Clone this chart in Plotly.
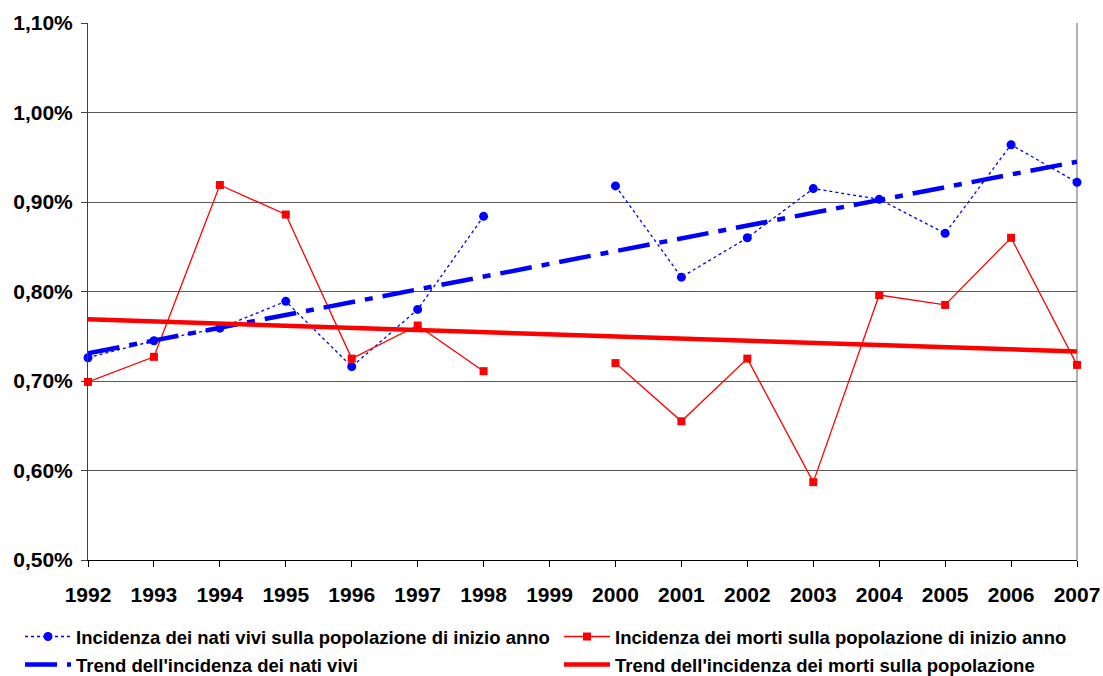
import plotly.graph_objects as go

anni = ["1992", "1993", "1994", "1995", "1996", "1997", "1998", "1999",
        "2000", "2001", "2002", "2003", "2004", "2005", "2006", "2007"]

# values in percent (None = missing)
nati = [0.726, 0.745, 0.759, 0.789, 0.716, 0.780, 0.884, None,
        0.918, 0.816, 0.860, 0.915, 0.903, 0.865, 0.964, 0.922]
morti = [0.699, 0.727, 0.919, 0.886, 0.725, 0.762, 0.711, None,
         0.720, 0.655, 0.725, 0.587, 0.796, 0.785, 0.860, 0.718]

trend_anni = ["1992", "2007"]
trend_nati = [0.731, 0.945]
trend_morti = [0.769, 0.733]

y_ticks = [0.50, 0.60, 0.70, 0.80, 0.90, 1.00, 1.10]

def frac(v):
    return [None if x is None else x / 100 for x in v]

FONT = "Liberation Sans, Arial, sans-serif"

fig = go.Figure()
fig.add_trace(go.Scatter(
    x=anni, y=frac(nati), mode="lines+markers",
    name="<b>Incidenza dei nati vivi sulla popolazione di inizio anno</b>",
    line=dict(color="#0000FF", width=1.3, dash="dot"),
    marker=dict(symbol="circle", size=9, color="#0000FF"),
    connectgaps=False, cliponaxis=False, legend="legend"))
fig.add_trace(go.Scatter(
    x=anni, y=frac(morti), mode="lines+markers",
    name="<b>Incidenza dei morti sulla popolazione di inizio anno</b>",
    line=dict(color="#FF0000", width=1.3),
    marker=dict(symbol="square", size=8, color="#FF0000"),
    connectgaps=False, cliponaxis=False, legend="legend2"))
fig.add_trace(go.Scatter(
    x=trend_anni, y=frac(trend_nati), mode="lines",
    name="<b>Trend dell'incidenza dei nati vivi</b>",
    line=dict(color="#0000FF", width=4.5, dash="32px,10px,8px,10px"),
    legend="legend3"))
fig.add_trace(go.Scatter(
    x=trend_anni, y=frac(trend_morti), mode="lines",
    name="<b>Trend dell'incidenza dei morti sulla popolazione</b>",
    line=dict(color="#FF0000", width=4.5),
    legend="legend4"))

leg_common = dict(orientation="h", xref="container", yref="container",
                  xanchor="left", yanchor="middle",
                  bgcolor="rgba(0,0,0,0)", itemwidth=46,
                  font=dict(family=FONT, size=18.5, color="black"))

fig.update_layout(
    width=1103, height=676,
    margin=dict(l=88, r=26, t=23, b=116, autoexpand=False),
    paper_bgcolor="white", plot_bgcolor="white",
    separators=",.",
    font=dict(family=FONT, color="black"),
    showlegend=True,
    legend=dict(x=20 / 1103, y=1 - 637 / 676, **leg_common),
    legend2=dict(x=559 / 1103, y=1 - 637 / 676, **leg_common),
    legend3=dict(x=20 / 1103, y=1 - 665 / 676, **leg_common),
    legend4=dict(x=559 / 1103, y=1 - 665 / 676, **leg_common),
    xaxis=dict(type="category", categoryorder="array", categoryarray=anni,
               range=[0, len(anni) - 1], showgrid=False, automargin=False,
               showline=True, linecolor="black", linewidth=1,
               ticks="outside", ticklen=6, tickcolor="black",
               ticklabelstandoff=10,
               tickfont=dict(family=FONT, size=21, color="black", weight="bold"),
               mirror=False, zeroline=False, fixedrange=True),
    yaxis=dict(range=[0.005, 0.011], tickvals=[v / 100 for v in y_ticks],
               tickformat=".2%", showgrid=True, gridcolor="#5a5a5a", gridwidth=1,
               showline=True, linecolor="#404040", linewidth=1, automargin=False,
               ticks="outside", ticklen=6, tickcolor="#404040",
               ticklabelstandoff=4,
               tickfont=dict(family=FONT, size=21, color="black", weight="bold"),
               zeroline=False, fixedrange=True),
)

# right border of plot area
fig.add_shape(type="line", xref="paper", yref="paper", x0=1, x1=1, y0=0, y1=1,
              line=dict(color="#999999", width=1.5), layer="below")

fig.write_html("out.html", config={"displayModeBar": False},
               post_script="document.body.style.margin='0';document.body.style.overflow='hidden';")
